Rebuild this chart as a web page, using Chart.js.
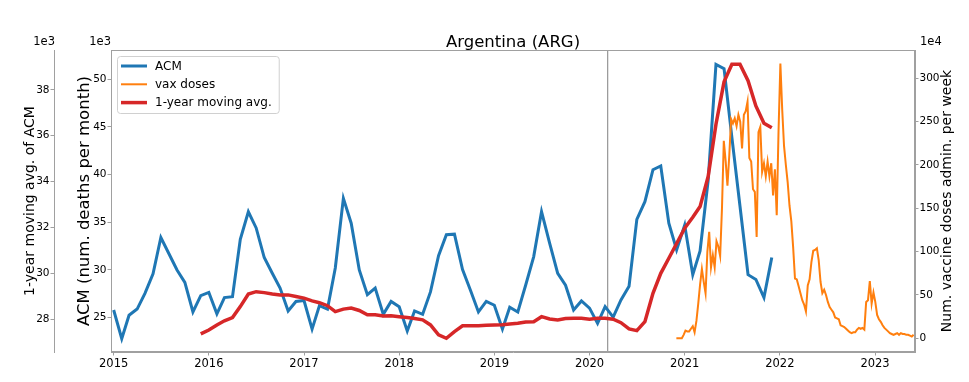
<!DOCTYPE html>
<html>
<head>
<meta charset="utf-8">
<script src="https://cdn.jsdelivr.net/npm/chart.js@4.4.1/dist/chart.umd.min.js"></script>
<style>
html,body{margin:0;padding:0;background:#fff;}
#wrap{position:relative;width:969px;height:382px;}
</style>
</head>
<body>
<div id="wrap"><canvas id="c" width="969" height="382"></canvas></div>
<script>
// ---------------- DATA ----------------
const chartTitle = 'Argentina (ARG)';
// monthly all-cause mortality (thousands of deaths per month), Jan 2015 .. Dec 2021
const acmStart = '2015-01';
const acmValues = [
  25.8, 22.8, 25.25, 25.9, 27.55, 29.6, 33.4, 31.7, 30.0, 28.7, 25.6, 27.3,
  27.65, 25.4, 27.1, 27.2, 33.2, 36.1, 34.4, 31.3, 29.65, 28.1, 25.7, 26.7,
  26.8, 23.8, 26.25, 25.9, 30.2, 37.5, 34.9, 30.0, 27.4, 28.1, 25.35, 26.7,
  26.15, 23.6, 25.7, 25.35, 27.7, 31.5, 33.7, 33.75, 30.05, 27.9, 25.6, 26.7,
  26.3, 23.8, 26.1, 25.6, 28.4, 31.4, 36.1, 32.8, 29.65, 28.4, 25.8, 26.75,
  26.0, 24.4, 26.15, 25.05, 26.85, 28.3, 35.3, 37.15, 40.5, 40.9, 34.9, 32.1,
  34.7, 29.5, 32.0, 39.4, 51.55, 51.1, 43.9, 36.7, 29.5, 29.0, 27.1, 31.3
];
// 1-year moving average of ACM (thousands), Dec 2015 .. Dec 2021
const maStart = '2015-12';
const maValues = [
  27.36,
  27.53, 27.75, 27.93, 28.07, 28.55, 29.1, 29.2, 29.16, 29.1, 29.06, 29.06, 28.99,
  28.92, 28.8, 28.72, 28.59, 28.33, 28.44, 28.49, 28.38, 28.19, 28.19, 28.14, 28.15,
  28.11, 28.07, 28.03, 27.97, 27.75, 27.32, 27.17, 27.46, 27.71, 27.71, 27.72, 27.74,
  27.75, 27.76, 27.79, 27.82, 27.88, 27.89, 28.11, 28.01, 27.97, 28.03, 28.04, 28.04,
  28.0, 28.04, 28.04, 28.0, 27.85, 27.58, 27.5, 27.89, 29.13, 30.0, 30.66, 31.3,
  31.97, 32.45, 32.91, 34.22, 36.5, 38.35, 39.12, 39.12, 38.4, 37.3, 36.55, 36.35
];
// weekly vaccine doses administered (units of 1e4), weeks starting 2020-11-30
const vaxStart = '2020-11-30';
const vaxValues = [
  0, 0, 0, 0, 4, 9, 8, 8, 11, 14, 7, 20, 40, 62, 80, 65, 52, 100, 123, 82,
  96, 82, 112, 106, 95, 150, 228, 205, 176, 211, 253, 248, 254, 245, 258, 250, 219, 258, 262, 273,
  208, 204, 172, 169, 117, 238, 244, 192, 202, 187, 204, 187, 202, 165, 195, 142, 240, 317, 264, 222,
  200, 180, 153, 135, 105, 69, 68, 60, 52, 44, 39, 31, 61, 68, 88, 101, 102, 104, 90, 65,
  52, 56, 50, 42, 36, 33, 30, 24, 23, 22, 15, 14, 13, 11, 9, 7, 6, 7, 7, 10,
  12, 11, 12, 10, 42, 44, 66, 40, 53, 42, 27, 22, 19, 15, 12, 10, 8, 6, 5, 4,
  5, 6, 4, 6, 5, 5, 4, 4, 3, 2, 4
];
const markerDate = '2020-03-11';
const yearTicks = [2015, 2016, 2017, 2018, 2019, 2020, 2021, 2022, 2023];
const acmTicks = [25, 30, 35, 40, 45, 50];
const maTicks = [28, 30, 32, 34, 36, 38];
const vaxTicks = [0, 50, 100, 150, 200, 250, 300];
const seriesNames = ['ACM', 'vax doses', '1-year moving avg.'];
const axisTitles = ['1-year moving avg. of ACM', 'ACM (num. deaths per month)', 'Num. vaccine doses admin. per week'];

// ---------------- HELPERS ----------------
function decYear(t) {
  const d = new Date(t);
  const y = d.getUTCFullYear();
  const a = Date.UTC(y, 0, 1), b = Date.UTC(y + 1, 0, 1);
  return y + (d.getTime() - a) / (b - a);
}
function monthly(start, vals) {
  const [y0, m0] = start.split('-').map(Number);
  return vals.map((v, i) => ({ x: decYear(Date.UTC(y0, m0 - 1 + i, 1)), y: v }));
}
function weekly(start, vals) {
  const t0 = Date.parse(start + 'T00:00:00Z');
  return vals.map((v, i) => ({ x: decYear(t0 + i * 7 * 86400000), y: v }));
}
const markerX = decYear(Date.parse(markerDate + 'T00:00:00Z'));

const FONT = 'DejaVu Sans';
Chart.defaults.font.family = FONT;
Chart.defaults.color = '#000';
const SPINE = '#a0a0a0';
const C_ACM = '#1f77b4', C_VAX = '#ff7f0e', C_MA = '#d62728';

const ACM_MIN = 21.4, ACM_MAX = 53.05;

function tickSetter(arr) { return s => { s.ticks = arr.map(v => ({ value: v })); }; }
const yTickFont = { family: FONT, size: 10.5 };
const xTickFont = { family: FONT, size: 11.5 };
const gridOpts = { display: true, drawOnChartArea: false, drawTicks: true, tickLength: 3.5, color: SPINE };
const borderOpts = { display: true, color: SPINE, width: 1 };

// ---------------- PLUGIN: frame, legend, title, offsets ----------------
const decor = {
  id: 'decor',
  afterDraw(chart) {
    const ctx = chart.ctx, a = chart.chartArea;
    ctx.save();
    // frame
    ctx.strokeStyle = SPINE; ctx.lineWidth = 1;
    ctx.strokeRect(Math.round(a.left) + 0.5, Math.round(a.top) + 0.5, Math.round(a.right - a.left) - 1, Math.round(a.bottom - a.top) - 1);
    // title
    ctx.fillStyle = '#000';
    ctx.font = '16.5px ' + FONT;
    ctx.textAlign = 'center'; ctx.textBaseline = 'alphabetic';
    ctx.fillText(chartTitle, (a.left + a.right) / 2, 46.5);
    // offset labels
    ctx.font = '11.5px ' + FONT;
    const sMA = chart.scales.yMA, sACM = chart.scales.yACM, sV = chart.scales.yVax;
    ctx.textAlign = 'right';
    ctx.fillText('1e3', sMA.right + 1, 45);
    ctx.fillText('1e3', sACM.right, 45);
    ctx.textAlign = 'left';
    ctx.fillText('1e4', sV.left + 5, 45);
    // right axis title (reads bottom to top)
    ctx.save();
    ctx.font = '14px ' + FONT;
    ctx.translate(947, (a.top + a.bottom) / 2);
    ctx.rotate(-Math.PI / 2);
    ctx.textAlign = 'center'; ctx.textBaseline = 'middle';
    ctx.fillText(axisTitles[2], 0, 0);
    ctx.restore();
    // legend
    ctx.font = '12px ' + FONT;
    const colors = [C_ACM, C_VAX, C_MA], widths = [3, 2, 3.5];
    let tw = 0; seriesNames.forEach(n => tw = Math.max(tw, ctx.measureText(n).width));
    const bx = a.left + 6, by = a.top + 6, bw = 39 + tw + 6, bh = 57;
    ctx.beginPath();
    if (ctx.roundRect) ctx.roundRect(bx + 0.5, by + 0.5, bw, bh, 3); else ctx.rect(bx + 0.5, by + 0.5, bw, bh);
    ctx.fillStyle = 'rgba(255,255,255,0.8)'; ctx.fill();
    ctx.strokeStyle = '#d0d0d0'; ctx.lineWidth = 1; ctx.stroke();
    seriesNames.forEach((n, i) => {
      const yy = by + 10 + i * 18.3;
      ctx.beginPath(); ctx.strokeStyle = colors[i]; ctx.lineWidth = widths[i];
      ctx.moveTo(bx + 4, yy); ctx.lineTo(bx + 30, yy); ctx.stroke();
      ctx.fillStyle = '#000'; ctx.textAlign = 'left'; ctx.textBaseline = 'middle';
      ctx.fillText(n, bx + 38, yy + 0.5);
    });
    ctx.restore();
  }
};

new Chart(document.getElementById('c'), {
  type: 'line',
  data: {
    datasets: [
      { label: seriesNames[0], data: monthly(acmStart, acmValues), yAxisID: 'yACM', borderColor: C_ACM, borderWidth: 3, pointRadius: 0, tension: 0, order: 3 },
      { label: seriesNames[1], data: weekly(vaxStart, vaxValues), yAxisID: 'yVax', borderColor: C_VAX, borderWidth: 2, pointRadius: 0, tension: 0, order: 2 },
      { label: seriesNames[2], data: monthly(maStart, maValues), yAxisID: 'yMA', borderColor: C_MA, borderWidth: 3.5, pointRadius: 0, tension: 0, order: 1 },
      { label: 'marker', data: [{ x: markerX, y: ACM_MIN }, { x: markerX, y: ACM_MAX }], yAxisID: 'yACM', borderColor: '#808080', borderWidth: 1, pointRadius: 0, order: 4 }
    ]
  },
  options: {
    animation: false,
    responsive: false,
    devicePixelRatio: 1,
    layout: { padding: { top: 50, left: 0, right: 0, bottom: 0 } },
    plugins: { legend: { display: false }, title: { display: false }, tooltip: { enabled: false } },
    scales: {
      x: {
        type: 'linear', min: 2014.972, max: 2023.42,
        afterBuildTicks: tickSetter(yearTicks),
        ticks: { font: xTickFont, color: '#000', padding: 2, maxRotation: 0, autoSkip: false, callback: v => String(v) },
        grid: gridOpts, border: borderOpts,
        afterFit: s => { s.height = 30; }
      },
      yMA: {
        type: 'linear', position: 'left', weight: 2, min: 26.57, max: 39.74,
        afterBuildTicks: tickSetter(maTicks),
        ticks: { font: yTickFont, color: '#000', padding: 1, callback: v => String(v) },
        grid: gridOpts, border: borderOpts,
        title: { display: true, text: axisTitles[0], font: { family: FONT, size: 14 }, color: '#000', padding: { top: 21.6, bottom: 0 } },
        afterFit: s => { s.width = 54; }
      },
      yACM: {
        type: 'linear', position: 'left', weight: 1, min: ACM_MIN, max: ACM_MAX,
        afterBuildTicks: tickSetter(acmTicks),
        ticks: { font: yTickFont, color: '#000', padding: 1, callback: v => String(v) },
        grid: gridOpts, border: borderOpts,
        title: { display: true, text: axisTitles[1], font: { family: FONT, size: 16.5 }, color: '#000', padding: { top: 21, bottom: 0 } },
        afterFit: s => { s.width = 57; }
      },
      yVax: {
        type: 'linear', position: 'right', min: -15.8, max: 332.7,
        afterBuildTicks: tickSetter(vaxTicks),
        ticks: { font: yTickFont, color: '#000', padding: 1, callback: v => String(v) },
        grid: gridOpts, border: borderOpts,
        afterFit: s => { s.width = 54; }
      }
    }
  },
  plugins: [decor]
});
</script>
</body>
</html>
